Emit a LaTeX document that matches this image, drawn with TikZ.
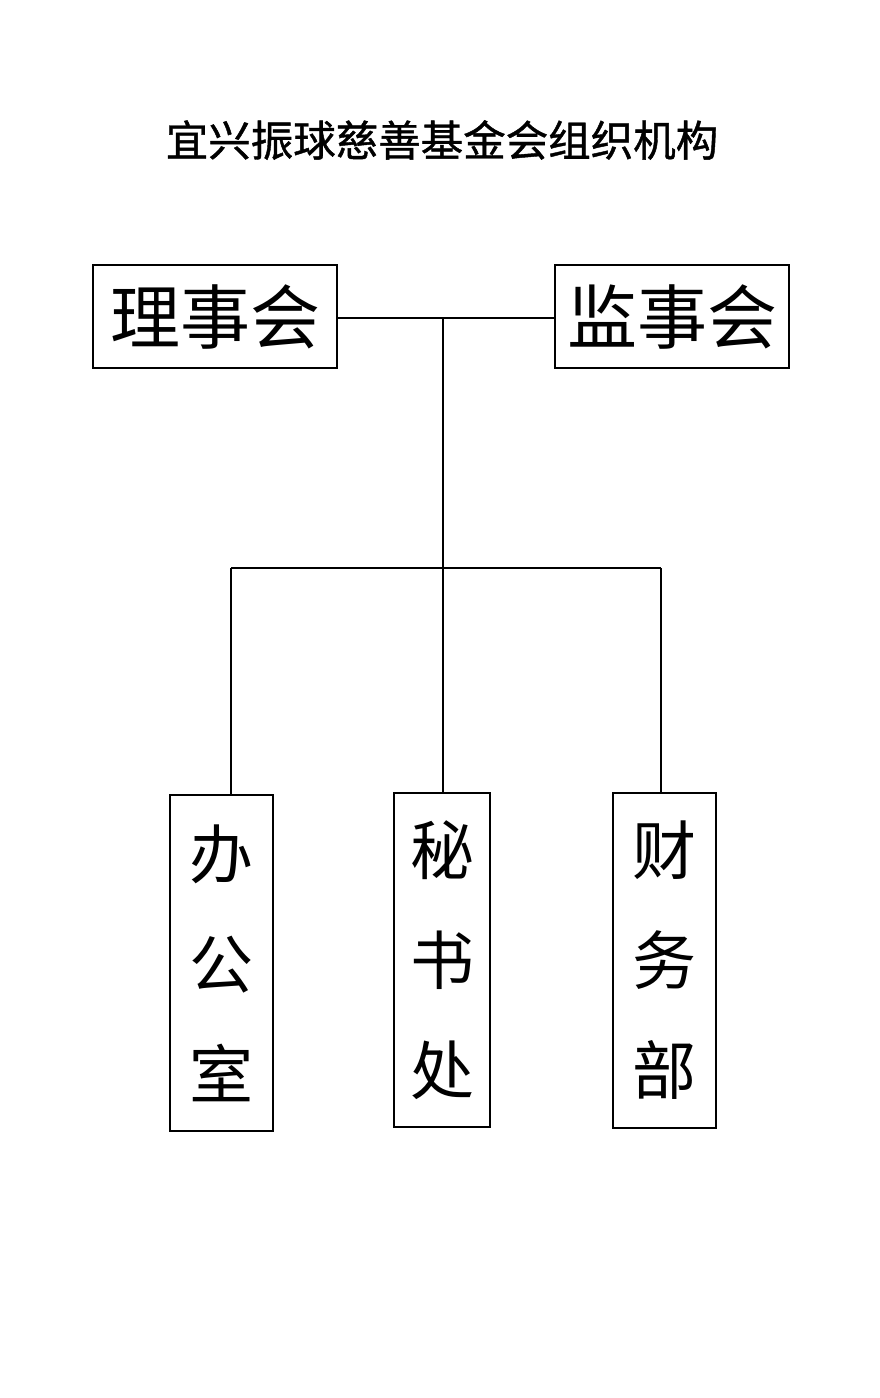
\documentclass[tikz,border=0pt]{standalone}
\usepackage{fontspec}
\newfontfamily\cjk{Noto Sans CJK SC}
\newfontfamily\cjktitle[FakeBold=1]{Noto Sans CJK SC}
\begin{document}
\begin{tikzpicture}[x=1pt,y=-1pt,
  box/.style={draw,line width=1.3pt,inner sep=0pt,anchor=center,align=center},
  hbox/.style={box,font=\cjk\fontsize{70}{72}\selectfont},
  vbox/.style={box,font=\cjk\fontsize{64}{110}\selectfont},
  conn/.style={line width=1.3pt}]
\useasboundingbox[fill=white] (0,0) rectangle (880,1398);
\node (title) at (442,140) {\cjktitle\fontsize{42.5}{44}\selectfont 宜兴振球慈善基金会组织机构};
\node[hbox,minimum width=244pt,minimum height=103pt] (lsh) at (215,316.5) {理事会};
\node[hbox,minimum width=234pt,minimum height=103pt] (jsh) at (672,316.5) {监事会};
\node[vbox,minimum width=103pt,minimum height=336pt] (bgs) at (221.5,963) {办\\公\\室};
\node[vbox,minimum width=96pt,minimum height=334pt] (msc) at (442,960) {秘\\书\\处};
\node[vbox,minimum width=103pt,minimum height=335pt] (cwb) at (664.5,960.5) {财\\务\\部};
\coordinate (j1) at (443,318);
\coordinate (j2) at (443,568);
\coordinate (jl) at (231,568);
\coordinate (jr) at (661,568);
\draw[conn] (lsh.east |- j1) -- (jsh.west |- j1);
\draw[conn] (j1) -- (j1 |- msc.north);
\draw[conn] (jl) -- (jr);
\draw[conn] (jl) -- (jl |- bgs.north);
\draw[conn] (jr) -- (jr |- cwb.north);
\end{tikzpicture}
\end{document}
